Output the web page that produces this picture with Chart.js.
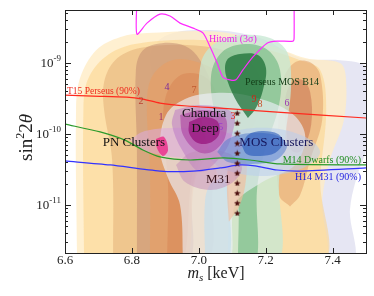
<!DOCTYPE html>
<html>
<head>
<meta charset="utf-8">
<script src="https://cdn.jsdelivr.net/npm/chart.js@4.4.1/dist/chart.umd.min.js"></script>
<style>
  html, body { margin: 0; padding: 0; background: #fff; }
  #wrap { width: 374px; height: 296px; position: relative; }
</style>
</head>
<body>
<div id="wrap"><canvas id="chart"></canvas></div>
<script>
// axis ranges / ticks
const X_MIN = 6.6, X_MAX = 7.5;
const Y_MIN = 2.1e-12, Y_MAX = 5.6e-9;
const xTicks = [6.6, 6.8, 7.0, 7.2, 7.4];
const yTicks = [1e-11, 1e-10, 1e-9];
const yTickExp = ['-11', '-10', '-9'];

// contour regions, [m_s keV, sin^2 2theta], back to front
const lavender    = [[6.953,1.5e-12],[6.938,5.95e-11],[6.854,1.1e-9],[6.899,2.4e-9],[7.034,2.92e-9],[7.183,2.25e-9],[7.303,1.18e-9],[7.422,1.1e-9],[7.488,9.7e-10],[7.518,6.8e-10],[7.518,1.14e-10],[7.47,2.25e-11],[7.452,8.5e-12],[7.452,1.5e-12]];
const cream       = [[6.636,1.5e-12],[6.633,2.18e-10],[6.645,6.15e-10],[6.693,1.52e-9],[6.764,2.32e-9],[6.845,2.65e-9],[7.064,2.74e-9],[7.213,1.79e-9],[7.318,1.18e-9],[7.422,1.0e-9],[7.44,6.15e-10],[7.434,1.57e-10],[7.392,4.3e-11],[7.369,1.18e-11],[7.363,1.5e-12]];
const yellow      = [[6.657,1.5e-12],[6.655,2.18e-10],[6.668,5.8e-10],[6.72,1.22e-9],[6.809,1.85e-9],[7.004,2.11e-9],[7.183,1.63e-9],[7.303,1.1e-9],[7.363,8.0e-10],[7.381,2.18e-10],[7.363,2.25e-11],[7.363,1.5e-12]];
const tan         = [[6.744,1.5e-12],[6.741,4.3e-11],[6.717,2.18e-10],[6.717,5.4e-10],[6.75,1.1e-9],[6.824,1.63e-9],[6.974,1.79e-9],[7.093,1.43e-9],[7.168,8.5e-10],[7.189,3.0e-10],[7.138,8.2e-11],[7.049,2.65e-11],[7.019,1.5e-12]];
const mauve       = [[6.815,1.5e-12],[6.815,5.95e-11],[6.812,8.0e-10],[6.833,1.52e-9],[6.89,1.91e-9],[6.959,1.74e-9],[7.004,1.1e-9],[7.04,4.17e-10],[7.019,8.2e-11],[6.98,1.63e-11],[6.968,1.5e-12]];
const orange      = [[6.854,1.5e-12],[6.854,3.11e-11],[6.845,3.0e-10],[6.863,6.8e-10],[6.92,1.1e-9],[6.998,1.03e-9],[7.064,6.8e-10],[7.093,3.0e-10],[7.049,8.2e-11],[6.989,2.25e-11],[6.959,1.5e-12]];
const deepOrange  = [[6.905,1.5e-12],[6.908,1.91e-11],[6.893,1.57e-10],[6.908,4.17e-10],[6.953,7.0e-10],[7.019,6.35e-10],[7.052,3.54e-10],[7.028,1.14e-10],[6.98,2.65e-11],[6.953,1.5e-12]];
const rightTan    = [[7.273,9.5e-12],[7.24,1.38e-11],[7.237,1.14e-10],[7.252,5.8e-10],[7.288,1.03e-9],[7.333,1.03e-9],[7.363,6.8e-10],[7.369,1.57e-10],[7.333,4.3e-11],[7.303,1.38e-11]];
const rightBrown  = [[7.264,8.2e-11],[7.258,3.0e-10],[7.279,5.4e-10],[7.309,5.8e-10],[7.333,3.9e-10],[7.336,1.34e-10],[7.309,5.95e-11],[7.282,5.6e-11]];
const mintOuter   = [[7.087,1.5e-12],[7.084,1.18e-11],[7.04,4.3e-11],[7.004,2.18e-10],[7.007,1.03e-9],[7.049,1.91e-9],[7.132,2.48e-9],[7.213,2.25e-9],[7.264,1.43e-9],[7.276,4.9e-10],[7.261,1.14e-10],[7.24,2.25e-11],[7.237,1.5e-12]];
const greenMid    = [[7.117,1.5e-12],[7.117,1.38e-11],[7.093,4.3e-11],[7.049,1.85e-10],[7.037,6.8e-10],[7.07,1.43e-9],[7.138,1.85e-9],[7.207,1.52e-9],[7.243,8.0e-10],[7.24,2.56e-10],[7.198,5.95e-11],[7.174,1.63e-11],[7.171,1.5e-12]];
const greyWhite   = [[6.953,1.5e-12],[6.944,1.0e-11],[6.908,2.4e-11],[6.884,5.95e-11],[6.902,1.85e-10],[6.959,3.11e-10],[7.049,3.78e-10],[7.153,3.43e-10],[7.273,2.04e-10],[7.318,9.7e-11],[7.288,3.66e-11],[7.19,2.1e-11],[7.108,1.0e-11],[7.087,1.5e-12]];
const blueBand    = [[7.019,1.5e-12],[7.019,1.18e-11],[7.04,2.11e-11],[7.078,2.25e-11],[7.09,1.18e-11],[7.087,1.5e-12]];
const greenDark   = [[7.147,1.68e-10],[7.108,3.2e-10],[7.081,6.8e-10],[7.084,1.1e-9],[7.123,1.34e-9],[7.177,1.3e-9],[7.201,8.5e-10],[7.192,4.17e-10],[7.171,2.32e-10]];
const peach       = [[7.09,5.8e-12],[7.084,1.91e-11],[7.093,3.66e-11],[7.138,4.3e-11],[7.141,2.25e-11],[7.123,1.0e-11]];
const mosOuter    = [[7.016,5.57e-11],[7.066,9.4e-11],[7.189,1.22e-10],[7.312,9.4e-11],[7.363,5.57e-11],[7.312,3.32e-11],[7.189,2.56e-11],[7.066,3.32e-11]];
const pnCluster   = [[6.794,8.2e-11],[6.839,1.1e-10],[6.959,1.22e-10],[7.078,1.07e-10],[7.132,7.0e-11],[7.087,4.9e-11],[6.959,4.6e-11],[6.839,5.76e-11]];
const chandraOut  = [[6.929,2.18e-10],[7.004,2.56e-10],[7.102,1.98e-10],[7.099,9.7e-11],[7.07,5.06e-11],[7.004,2.92e-11],[6.95,5.95e-11],[6.92,1.34e-10]];
const m31         = [[6.932,3.66e-11],[6.974,5.4e-11],[7.034,5.95e-11],[7.099,5.06e-11],[7.129,3.32e-11],[7.099,2.04e-11],[7.034,1.63e-11],[6.959,2.11e-11]];
const mosMid      = [[7.055,5.57e-11],[7.087,8.5e-11],[7.159,1.03e-10],[7.237,9.4e-11],[7.264,6.8e-11],[7.231,4.3e-11],[7.159,3.78e-11],[7.087,4.04e-11]];
const mosCore     = [[7.129,6.8e-11],[7.147,9.7e-11],[7.189,1.1e-10],[7.237,1.0e-10],[7.252,7.46e-11],[7.228,5.4e-11],[7.183,4.9e-11],[7.144,5.2e-11]];
const chandraMid  = [[6.944,1.85e-10],[7.013,2.18e-10],[7.078,1.74e-10],[7.078,8.8e-11],[7.04,5.6e-11],[6.998,5.6e-11],[6.953,9.7e-11]];
const chandraCore = [[6.971,1.48e-10],[7.013,1.74e-10],[7.055,1.53e-10],[7.061,1.0e-10],[7.034,7.5e-11],[6.995,7.5e-11],[6.971,1.03e-10]];
const pnSpot      = [[6.872,8.5e-11],[6.896,9.1e-11],[6.908,5.95e-11],[6.893,4.9e-11],[6.875,6.35e-11]];

// limit curves
const t15X    = [6.6, 6.684, 6.785, 6.833, 6.884, 6.965, 7.064, 7.234, 7.5];
const t15Y    = [3.54e-10, 3.43e-10, 3.32e-10, 3.11e-10, 2.73e-10, 2.48e-10, 2.32e-10, 2.04e-10, 1.68e-10];
const m14X    = [6.6, 6.705, 6.779, 6.833, 6.884, 6.974, 7.075, 7.153, 7.243, 7.5];
const m14Y    = [1.38e-10, 1.07e-10, 8.2e-11, 5.95e-11, 4.75e-11, 4.3e-11, 4.6e-11, 4.3e-11, 3.78e-11, 3.66e-11];
const h14X    = [6.6, 6.735, 6.884, 6.983, 7.064, 7.123, 7.168, 7.234, 7.303, 7.5];
const h14Y    = [4.17e-11, 3.66e-11, 3.0e-11, 3.0e-11, 3.32e-11, 3.66e-11, 3.55e-11, 3.11e-11, 3.0e-11, 3.32e-11];
const hitomiX = [6.815, 6.815, 6.845, 6.884, 6.914, 6.944, 6.983, 7.013, 7.034, 7.055, 7.072, 7.093, 7.111, 7.132, 7.162, 7.204, 7.234, 7.282, 7.285, 7.285];
const hitomiY = [8e-9, 2.56e-9, 3.66e-9, 4.9e-9, 4.6e-9, 3.66e-9, 3.11e-9, 2.65e-9, 1.68e-9, 1.0e-9, 6.35e-10, 5.8e-10, 5.8e-10, 8.0e-10, 1.22e-9, 1.91e-9, 2.04e-9, 2.04e-9, 2.25e-9, 8e-9];

// star markers
const starX = 7.115;
const starY = [1.98e-10, 1.43e-10, 1.03e-10, 7.46e-11, 5.4e-11, 3.9e-11, 2.83e-11, 2.04e-11, 1.48e-11, 1.07e-11, 7.7e-12];

// text annotations (x, baseline y)
const noteText = ['T15 Perseus (90%)', 'Hitomi (3σ)', 'Perseus MOS B14', 'Chandra', 'Deep', 'PN Clusters', 'MOS Clusters', 'M31', 'M14 Dwarfs (90%)', 'H14 M31 (90%)'];
const noteX    = [6.606, 7.102, 7.249, 7.016, 7.019, 6.806, 7.232, 7.058, 7.485, 7.485];
const noteY    = [3.66e-10, 2.0e-9, 4.9e-10, 1.74e-10, 1.07e-10, 6.8e-11, 6.8e-11, 2.04e-11, 3.9e-11, 2.25e-11];
const numText  = ['1', '2', '3', '4', '5', '6', '7', '8', '9'];
const numX     = [6.887, 6.827, 7.102, 6.905, 7.066, 7.264, 6.986, 7.183, 7.165];
const numY     = [1.57e-10, 2.65e-10, 1.63e-10, 4.17e-10, 1.14e-10, 2.48e-10, 3.78e-10, 2.4e-10, 2.82e-10];

// ---- styles ----
const SERIF = '"Liberation Serif", "DejaVu Serif", serif';
const layers = [
  [lavender,    'rgba(224,224,240,0.80)'],
  [cream,       'rgba(255,236,196,0.78)'],
  [yellow,      'rgba(252,212,136,0.55)'],
  [tan,         'rgba(226,172,116,0.50)'],
  [mauve,       'rgba(180,122,104,0.42)'],
  [orange,      'rgba(236,156,94,0.48)'],
  [deepOrange,  'rgba(216,128,80,0.45)'],
  [rightTan,    'rgba(226,160,106,0.55)'],
  [rightBrown,  'rgba(194,100,70,0.45)'],
  [mintOuter,   'rgba(200,232,212,0.78)'],
  [greenMid,    'rgba(96,176,118,0.55)'],
  [greyWhite,   'rgba(236,238,246,0.66)'],
  [blueBand,    'rgba(196,222,236,0.70)'],
  [greenDark,   'rgba(24,108,50,0.72)'],
  [peach,       'rgba(245,186,150,0.60)'],
  [mosOuter,    'rgba(186,206,236,0.55)'],
  [pnCluster,   'rgba(220,172,220,0.55)'],
  [chandraOut,  'rgba(184,116,198,0.50)'],
  [m31,         'rgba(196,140,186,0.50)'],
  [mosMid,      'rgba(90,128,206,0.55)'],
  [mosCore,     'rgba(30,80,182,0.55)'],
  [chandraMid,  'rgba(166,48,154,0.50)'],
  [chandraCore, 'rgba(144,0,112,0.60)'],
  [pnSpot,      'rgba(236,30,130,0.75)']
];
const noteColor = ['#ee2a1e', '#f020ec', '#123c16', '#111', '#111', '#111', '#16165c', '#34121a', '#1e8c1e', '#1c1ce0'];
const noteSize  = [9.5, 10, 10, 13, 13, 13, 13, 13, 10, 10];
const noteAlign = ['left', 'center', 'center', 'center', 'center', 'center', 'center', 'center', 'right', 'right'];
const numColor  = ['#a0306a', '#b84030', '#e02a1a', '#7a2a9a', '#9a3ad0', '#9a3ab0', '#c05a30', '#c8502a', '#c82a1a'];

function makeStar(size, color) {
  const c = document.createElement('canvas');
  c.width = c.height = size;
  const g = c.getContext('2d');
  g.fillStyle = color;
  g.beginPath();
  for (let i = 0; i < 10; i++) {
    const r = i % 2 ? size * 0.2 : size * 0.5;
    const a = -Math.PI / 2 + i * Math.PI / 5;
    const px = size / 2 + r * Math.cos(a), py = size / 2 + 0.5 + r * Math.sin(a);
    if (i === 0) g.moveTo(px, py); else g.lineTo(px, py);
  }
  g.closePath();
  g.fill();
  return c;
}

const zipXY = (xs, ys) => xs.map((x, i) => ({x: x, y: ys[i]}));

const datasets = [];
layers.forEach(([pts, col]) => {
  const closed = pts.concat([pts[0]]);
  datasets.push({
    data: closed.map(p => ({x: p[0], y: p[1]})),
    backgroundColor: col,
    borderColor: 'rgba(0,0,0,0)',
    borderWidth: 0,
    fill: 'shape',
    tension: 0.35,
    pointRadius: 0
  });
});
function curve(xs, ys, color) {
  return {data: zipXY(xs, ys), borderColor: color, borderWidth: 1.2, fill: false, tension: 0.25, pointRadius: 0};
}
datasets.push(curve(t15X, t15Y, '#ff2a1e'));
datasets.push(curve(m14X, m14Y, '#2a9a2a'));
datasets.push(curve(h14X, h14Y, '#3232ff'));
datasets.push(curve(hitomiX, hitomiY, '#ff2cff'));
datasets.push({
  data: starY.map(y => ({x: starX, y: y})),
  showLine: false,
  pointStyle: makeStar(7, '#4a0c0c'),
  pointRadius: 3.5
});
// first in the list is drawn at the back
datasets.forEach((d, i) => { d.order = datasets.length - i; });

function drawText(ctx, parts, x, y, align) {
  // parts: [text, font, dy]
  let w = 0;
  parts.forEach(p => { ctx.font = p[1]; p.w = ctx.measureText(p[0]).width; w += p.w; });
  let x0 = align === 'right' ? x - w : align === 'center' ? x - w / 2 : x;
  parts.forEach(p => { ctx.font = p[1]; ctx.fillText(p[0], x0, y + (p[2] || 0)); x0 += p.w; });
}

const decor = {
  id: 'decor',
  beforeDraw(chart) {
    const ctx = chart.ctx;
    ctx.save();
    ctx.fillStyle = '#fff';
    ctx.fillRect(0, 0, chart.width, chart.height);
    ctx.restore();
  },
  afterDatasetsDraw(chart) {
    const {ctx, scales: {x, y}} = chart;
    ctx.save();
    ctx.textBaseline = 'alphabetic';
    noteText.forEach((t, i) => {
      ctx.fillStyle = noteColor[i];
      ctx.textAlign = 'left';
      drawText(ctx, [[t, noteSize[i] + 'px ' + SERIF]], x.getPixelForValue(noteX[i]), y.getPixelForValue(noteY[i]), noteAlign[i]);
    });
    numText.forEach((t, i) => {
      ctx.fillStyle = numColor[i];
      ctx.textAlign = 'center';
      ctx.font = '10px ' + SERIF;
      ctx.fillText(t, x.getPixelForValue(numX[i]), y.getPixelForValue(numY[i]));
    });
    ctx.restore();
  },
  afterDraw(chart) {
    const {ctx, chartArea: a, scales: {x, y}} = chart;
    ctx.save();
    ctx.strokeStyle = '#222';
    ctx.lineWidth = 1;
    ctx.strokeRect(Math.round(a.left) + 0.5, Math.round(a.top) + 0.5, Math.round(a.right - a.left), Math.round(a.bottom - a.top));
    ctx.beginPath();
    xTicks.forEach(v => {
      const px = Math.round(x.getPixelForValue(v)) + 0.5;
      ctx.moveTo(px, a.bottom); ctx.lineTo(px, a.bottom - 5);
      ctx.moveTo(px, a.top); ctx.lineTo(px, a.top + 5);
    });
    for (let e = -12; e <= -9; e++) {
      for (let k = 1; k <= 9; k++) {
        const v = k * Math.pow(10, e);
        if (v < Y_MIN || v > Y_MAX) continue;
        const py = Math.round(y.getPixelForValue(v)) + 0.5;
        const len = k === 1 ? 6 : 3;
        ctx.moveTo(a.left, py); ctx.lineTo(a.left + len, py);
        ctx.moveTo(a.right, py); ctx.lineTo(a.right - len, py);
      }
    }
    ctx.stroke();

    ctx.fillStyle = '#222';
    ctx.textBaseline = 'alphabetic';
    ctx.textAlign = 'left';
    xTicks.forEach(v => {
      drawText(ctx, [[v.toFixed(1), '13px ' + SERIF]], x.getPixelForValue(v), a.bottom + 11, 'center');
    });
    yTicks.forEach((v, i) => {
      const py = y.getPixelForValue(v);
      drawText(ctx, [['10', '13px ' + SERIF, 4], [yTickExp[i], '9px ' + SERIF, -2]], a.left - 4, py, 'right');
    });

    // x title
    drawText(ctx, [['m', 'italic 16px ' + SERIF], ['s', 'italic 11px ' + SERIF, 3], [' [keV]', '16px ' + SERIF]],
      (a.left + a.right) / 2 + 0.5, a.bottom + 25, 'center');
    // y title
    ctx.translate(32, (a.top + a.bottom) / 2 + 6);
    ctx.rotate(-Math.PI / 2);
    drawText(ctx, [['sin', '19px ' + SERIF], ['2', '12px ' + SERIF, -8], ['2', '19px ' + SERIF], ['θ', 'italic 19px ' + SERIF]], 0, 0, 'center');
    ctx.restore();
  }
};

new Chart(document.getElementById('chart'), {
  type: 'line',
  data: {datasets: datasets},
  options: {
    responsive: true,
    maintainAspectRatio: false,
    animation: false,
    layout: {padding: {left: 65, right: 8, top: 10, bottom: 43}},
    plugins: {legend: {display: false}, tooltip: {enabled: false}},
    scales: {
      x: {type: 'linear', min: X_MIN, max: X_MAX, display: false},
      y: {type: 'logarithmic', min: Y_MIN, max: Y_MAX, display: false}
    }
  },
  plugins: [decor]
});
</script>
</body>
</html>
